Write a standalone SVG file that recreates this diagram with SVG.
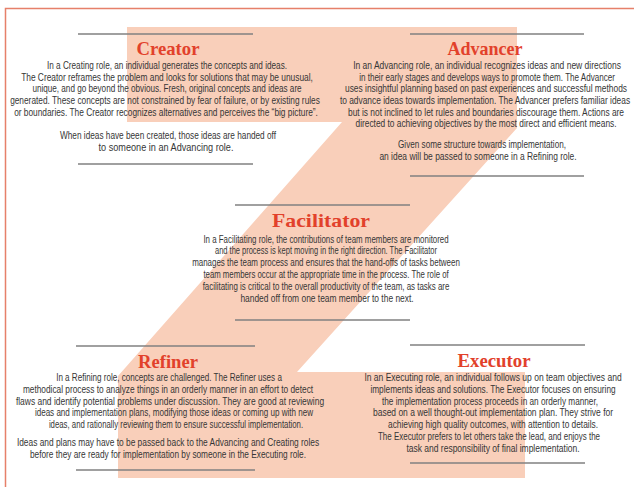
<svg xmlns="http://www.w3.org/2000/svg" width="634" height="487" viewBox="0 0 634 487">
<style>
.t{font-family:"Liberation Serif","Times New Roman",serif;font-weight:bold;font-size:19px;fill:#e2412b;text-anchor:middle}
.b{font-family:"Liberation Sans",Arial,sans-serif;font-size:10.5px;fill:#363636;text-anchor:middle}
.r{stroke:#808080;stroke-width:1.3;fill:none}
</style>
<rect x="0" y="0" width="634" height="487" fill="#ffffff"/>
<path d="M5.5,487 V8.5 H634" fill="none" stroke="#e6806a" stroke-width="1.5"/>
<g id="z-shape">
<polygon points="127,27 517,27 517,128 297,372 525,372 525,478 118,478 118,376 342,122 127,122" fill="#f9cfba"/>
</g>
<g id="connectors"></g>
<g id="creator">
<line class="r" x1="78" y1="34" x2="253" y2="34"/>
<text class="t" x="168" y="55" textLength="63" lengthAdjust="spacingAndGlyphs">Creator</text>
<text class="b" transform="translate(167,68.8) scale(0.75,1)" textLength="320" lengthAdjust="spacingAndGlyphs">In a Creating role, an individual generates the concepts and ideas.</text>
<text class="b" transform="translate(167,80.5) scale(0.75,1)" textLength="389" lengthAdjust="spacingAndGlyphs">The Creator reframes the problem and looks for solutions that may be unusual,</text>
<text class="b" transform="translate(167,92.2) scale(0.75,1)" textLength="359" lengthAdjust="spacingAndGlyphs">unique, and go beyond the obvious. Fresh, original concepts and ideas are</text>
<text class="b" transform="translate(165,103.9) scale(0.75,1)" textLength="413" lengthAdjust="spacingAndGlyphs">generated. These concepts are not constrained by fear of failure, or by existing rules</text>
<text class="b" transform="translate(166,115.6) scale(0.75,1)" textLength="405" lengthAdjust="spacingAndGlyphs">or boundaries. The Creator recognizes alternatives and perceives the “big picture”.</text>
<text class="b" transform="translate(168,138.5) scale(0.75,1)" textLength="288" lengthAdjust="spacingAndGlyphs">When ideas have been created, those ideas are handed off</text>
<text class="b" transform="translate(166,150.5) scale(0.75,1)" textLength="180" lengthAdjust="spacingAndGlyphs">to someone in an Advancing role.</text>
<line class="r" x1="78" y1="164" x2="253" y2="164"/>
</g>
<g id="advancer">
<line class="r" x1="410" y1="34" x2="584" y2="34"/>
<text class="t" x="485" y="55" textLength="75" lengthAdjust="spacingAndGlyphs">Advancer</text>
<text class="b" transform="translate(487,68.8) scale(0.75,1)" textLength="357" lengthAdjust="spacingAndGlyphs">In an Advancing role, an individual recognizes ideas and new directions</text>
<text class="b" transform="translate(487,80.5) scale(0.75,1)" textLength="341" lengthAdjust="spacingAndGlyphs">in their early stages and develops ways to promote them. The Advancer</text>
<text class="b" transform="translate(486,92.2) scale(0.75,1)" textLength="376" lengthAdjust="spacingAndGlyphs">uses insightful planning based on past experiences and successful methods</text>
<text class="b" transform="translate(485,103.9) scale(0.75,1)" textLength="387" lengthAdjust="spacingAndGlyphs">to advance ideas towards implementation. The Advancer prefers familiar ideas</text>
<text class="b" transform="translate(486,115.6) scale(0.75,1)" textLength="368" lengthAdjust="spacingAndGlyphs">but is not inclined to let rules and boundaries discourage them. Actions are</text>
<text class="b" transform="translate(486,127.3) scale(0.75,1)" textLength="348" lengthAdjust="spacingAndGlyphs">directed to achieving objectives by the most direct and efficient means.</text>
<text class="b" transform="translate(482,148) scale(0.75,1)" textLength="224" lengthAdjust="spacingAndGlyphs">Given some structure towards implementation,</text>
<text class="b" transform="translate(478,160) scale(0.75,1)" textLength="263" lengthAdjust="spacingAndGlyphs">an idea will be passed to someone in a Refining role.</text>
<line class="r" x1="410" y1="176" x2="584" y2="176"/>
</g>
<g id="facilitator">
<line class="r" x1="235" y1="205" x2="410" y2="205"/>
<text class="t" x="321" y="227" textLength="98" lengthAdjust="spacingAndGlyphs">Facilitator</text>
<text class="b" transform="translate(326,242.5) scale(0.75,1)" textLength="327" lengthAdjust="spacingAndGlyphs">In a Facilitating role, the contributions of team members are monitored</text>
<text class="b" transform="translate(326,254.3) scale(0.75,1)" textLength="296" lengthAdjust="spacingAndGlyphs">and the process is kept moving in the right direction. The Facilitator</text>
<text class="b" transform="translate(326,266.1) scale(0.75,1)" textLength="357" lengthAdjust="spacingAndGlyphs">manages the team process and ensures that the hand-offs of tasks between</text>
<text class="b" transform="translate(326,277.9) scale(0.75,1)" textLength="327" lengthAdjust="spacingAndGlyphs">team members occur at the appropriate time in the process. The role of</text>
<text class="b" transform="translate(326,289.7) scale(0.75,1)" textLength="329" lengthAdjust="spacingAndGlyphs">facilitating is critical to the overall productivity of the team, as tasks are</text>
<text class="b" transform="translate(327,301.5) scale(0.75,1)" textLength="231" lengthAdjust="spacingAndGlyphs">handed off from one team member to the next.</text>
<line class="r" x1="235" y1="320" x2="410" y2="320"/>
</g>
<g id="refiner">
<line class="r" x1="76" y1="346" x2="255" y2="346"/>
<text class="t" x="168" y="367.5" textLength="60" lengthAdjust="spacingAndGlyphs">Refiner</text>
<text class="b" transform="translate(169,381.3) scale(0.75,1)" textLength="301" lengthAdjust="spacingAndGlyphs">In a Refining role, concepts are challenged. The Refiner uses a</text>
<text class="b" transform="translate(168,393) scale(0.75,1)" textLength="387" lengthAdjust="spacingAndGlyphs">methodical process to analyze things in an orderly manner in an effort to detect</text>
<text class="b" transform="translate(170,404.7) scale(0.75,1)" textLength="411" lengthAdjust="spacingAndGlyphs">flaws and identify potential problems under discussion. They are good at reviewing</text>
<text class="b" transform="translate(174,416.4) scale(0.75,1)" textLength="371" lengthAdjust="spacingAndGlyphs">ideas and implementation plans, modifying those ideas or coming up with new</text>
<text class="b" transform="translate(176,428.1) scale(0.75,1)" textLength="339" lengthAdjust="spacingAndGlyphs">ideas, and rationally reviewing them to ensure successful implementation.</text>
<text class="b" transform="translate(168,445.8) scale(0.75,1)" textLength="403" lengthAdjust="spacingAndGlyphs">Ideas and plans may have to be passed back to the Advancing and Creating roles</text>
<text class="b" transform="translate(168,457.6) scale(0.75,1)" textLength="368" lengthAdjust="spacingAndGlyphs">before they are ready for implementation by someone in the Executing role.</text>
<line class="r" x1="76" y1="470" x2="255" y2="470"/>
</g>
<g id="executor">
<line class="r" x1="410" y1="345" x2="585" y2="345"/>
<text class="t" x="494" y="367" textLength="73" lengthAdjust="spacingAndGlyphs">Executor</text>
<text class="b" transform="translate(493,381.3) scale(0.75,1)" textLength="343" lengthAdjust="spacingAndGlyphs">In an Executing role, an individual follows up on team objectives and</text>
<text class="b" transform="translate(493,393) scale(0.75,1)" textLength="327" lengthAdjust="spacingAndGlyphs">implements ideas and solutions. The Executor focuses on ensuring</text>
<text class="b" transform="translate(490,404.7) scale(0.75,1)" textLength="288" lengthAdjust="spacingAndGlyphs">the implementation process proceeds in an orderly manner,</text>
<text class="b" transform="translate(493,416.4) scale(0.75,1)" textLength="320" lengthAdjust="spacingAndGlyphs">based on a well thought-out implementation plan. They strive for</text>
<text class="b" transform="translate(493,428.1) scale(0.75,1)" textLength="280" lengthAdjust="spacingAndGlyphs">achieving high quality outcomes, with attention to details.</text>
<text class="b" transform="translate(489,439.8) scale(0.75,1)" textLength="296" lengthAdjust="spacingAndGlyphs">The Executor prefers to let others take the lead, and enjoys the</text>
<text class="b" transform="translate(493,451.5) scale(0.75,1)" textLength="231" lengthAdjust="spacingAndGlyphs">task and responsibility of final implementation.</text>
<line class="r" x1="410" y1="463" x2="585" y2="463"/>
</g>
</svg>
